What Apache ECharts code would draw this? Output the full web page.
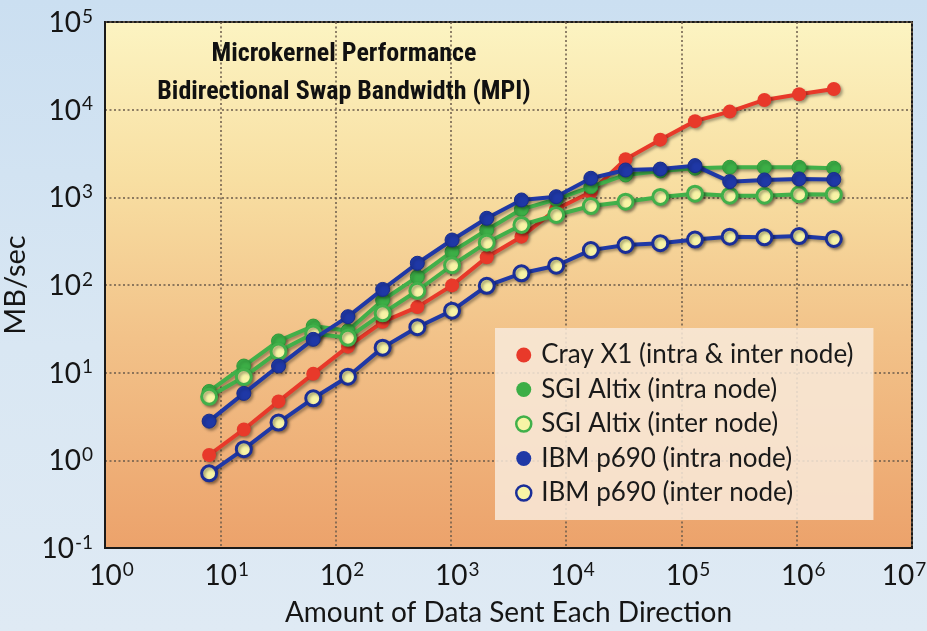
<!DOCTYPE html>
<html><head><meta charset="utf-8">
<script src="https://cdn.jsdelivr.net/npm/echarts@6/dist/echarts.min.js"></script>
<style>
html,body{margin:0;padding:0;}
body{background:linear-gradient(180deg,#cbdff1 0%,#d9e7f3 55%,#dfeaf4 100%);}
#c{width:927px;height:631px;}
</style>
</head><body><div id="c"></div>
<script>
// Message size (bytes sent each direction)
const xValues = [8,16,32,64,128,256,512,1024,2048,4096,8192,16384,32768,65536,131072,262144,524288,1048576,2097152];
// MB/sec
const crayX1      = [1.15,2.25,4.7,9.7,19.8,38,56,99,207,356,730,1150,2720,4550,7400,9500,12900,15000,17200];
const sgiIntra    = [6.1,11.9,23,34,30,67,124,240,424,730,950,1320,1800,2000,2150,2200,2200,2200,2150];
const sgiInter    = [5.3,8.9,17.4,28,25,47.5,86,168,304,484,629,796,891,1010,1100,1045,1045,1083,1080];
const ibmIntra    = [2.8,5.8,11.9,24,43.5,89,177,326,577,933,1017,1650,2050,2100,2300,1510,1580,1620,1600];
const ibmInter    = [0.71,1.34,2.7,5.1,9.0,19.3,33,51,98,136,166,250,286,300,330,356,350,362,335];
const seriesNames = ['Cray X1 (intra & inter node)','SGI Altix (intra node)','SGI Altix (inter node)','IBM p690 (intra node)','IBM p690 (inter node)'];
const titleLines  = ['Microkernel Performance','Bidirectional Swap Bandwidth (MPI)'];
const xAxisName = 'Amount of Data Sent Each Direction';
const yAxisName = 'MB/sec';

const chart = echarts.init(document.getElementById('c'));
const shadow = {shadowColor:'rgba(0,0,0,0.35)',shadowBlur:3,shadowOffsetX:2,shadowOffsetY:2};
const styles = [
  {line:'#e8392a', fill:'#e8392a', border:'#d8301f', bw:0},
  {line:'#41b04a', fill:'#3cae46', border:'#2f9a3a', bw:1},
  {line:'#41b04a', fill:'#f8f4a6', border:'#41b04a', bw:3},
  {line:'#1f38a6', fill:'#1f38a6', border:'#172c8c', bw:1},
  {line:'#1f38a6', fill:'#f8f4a6', border:'#1a2e98', bw:3}
];
const dataSets = [crayX1, sgiIntra, sgiInter, ibmIntra, ibmInter];

function powLabelY(v){
  const e = Math.round(Math.log10(v));
  return '{b|10}{s|' + e + '}';
}
function powLabelX(v){
  const e = Math.round(Math.log10(v));
  if (e >= 7) return '{b|10}{sr|' + e + '}';
  return '{bl|10}{s|' + e + '}';
}
const fontB = {fontFamily:'Lato',fontSize:28,color:'#151515',verticalAlign:'bottom',lineHeight:30};
const fontS = {fontFamily:'Lato',fontSize:19,color:'#151515',verticalAlign:'top',lineHeight:18};
const richLab = {
  b:Object.assign({},fontB),
  bl:Object.assign({},fontB,{padding:[0,0,0,13]}),
  s:Object.assign({},fontS,{padding:[0,0,0,1]}),
  sr:Object.assign({},fontS,{padding:[0,16,0,1]})
};

chart.setOption({
  animation:false,
  backgroundColor:'transparent',
  title:{
    text: titleLines.join('\n'),
    left: 339, top: 30, textAlign:'center',
    textStyle:{fontFamily:'Liberation Sans Narrow, Roboto Condensed, Roboto',fontWeight:'bold',fontSize:26,lineHeight:38,color:'#111'}
  },
  grid:{left:105,top:22,right:15,bottom:83,show:true,borderColor:'#1a1a1a',borderWidth:2,
    outerBoundsMode:'none', containLabel:false,
    backgroundColor:{type:'linear',x:0,y:0,x2:0,y2:1,colorStops:[
      {offset:0,color:'#fcf4c2'},{offset:0.3,color:'#f8dfa2'},{offset:0.6,color:'#f2c289'},{offset:1,color:'#eca26b'}]}},
  legend:{
    orient:'vertical', left:495, top:328,
    padding:[14,20,14,20], itemGap:8.5, itemWidth:15, itemHeight:15,
    backgroundColor:'rgba(248,234,218,0.85)',
    textStyle:{fontFamily:'Lato',fontSize:26,lineHeight:26,color:'#1a1a1a',padding:[0,0,0,5]},
    data: seriesNames.map((n,i)=>({name:n,icon:'circle',itemStyle:{color:styles[i].fill,borderColor:styles[i].border,borderWidth:styles[i].bw>1?2.5:0}}))
  },
  xAxis:{
    type:'log', logBase:10, min:1, max:1e7, interval:1,
    name:xAxisName, nameLocation:'middle', nameGap:51,
    nameTextStyle:{fontFamily:'Lato',fontSize:28,color:'#151515'},
    axisLine:{show:true,lineStyle:{color:'#1a1a1a',width:2}},
    axisTick:{show:false},
    axisLabel:{formatter:powLabelX,rich:richLab,margin:12,showMaxLabel:true,showMinLabel:true},
    splitLine:{show:true,lineStyle:{color:'#6b5b4b',width:1.5,type:[2,2.5]}},
    minorTick:{show:false}
  },
  yAxis:{
    type:'log', logBase:10, min:0.1, max:1e5, interval:1,
    name:yAxisName, nameLocation:'middle', nameGap:72, nameRotate:90,
    nameTextStyle:{fontFamily:'Lato',fontSize:29,color:'#151515'},
    axisLine:{show:true,lineStyle:{color:'#1a1a1a',width:2}},
    axisTick:{show:false},
    axisLabel:{formatter:powLabelY,rich:richLab,margin:12,showMaxLabel:true,showMinLabel:true},
    splitLine:{show:true,lineStyle:{color:'#6b5b4b',width:1.5,type:[2,2.5]}}
  },
  series: dataSets.map((arr,i)=>({
    name: seriesNames[i], type:'line',
    data: xValues.map((x,j)=>[x,arr[j]]),
    symbol:'circle', symbolSize: styles[i].bw>1 ? 15 : 14,
    showAllSymbol:true,
    lineStyle:Object.assign({color:styles[i].line,width:4},shadow),
    itemStyle:Object.assign({color:styles[i].fill,borderColor:styles[i].border,borderWidth:styles[i].bw},shadow),
    emphasis:{disabled:true},
    z: 2+i
  }))
});
</script>
</body></html>
